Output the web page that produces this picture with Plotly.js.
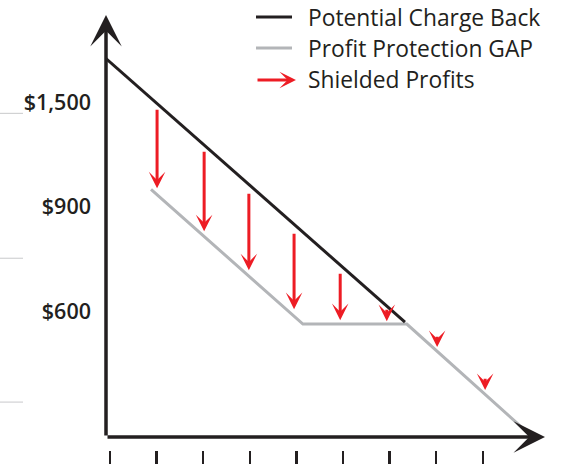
<!DOCTYPE html>
<html>
<head>
<meta charset="utf-8">
<script src="https://cdn.plot.ly/plotly-3.0.1.min.js"></script>
<style>html,body{margin:0;padding:0;background:#fff;}#chart{width:575px;height:467px;}</style>
</head>
<body>
<div id="chart"></div>
<script>
// ---- data (in chart units) ----
var xTickVals = [0, 1, 2, 3, 4, 5, 6, 7, 8];
var yTickVals = [1, 2, 3];
var yTickText = ['$600', '$900', '$1,500'];

var chargeBackX = [-0.086, 6.33];
var chargeBackY = [3.42, 0.895];

var gapX = [0.88, 4.14, 6.37, 8.95];
var gapY = [2.167, 0.876, 0.876, -0.158];

var shieldX   = [1.01, 2.02, 2.98, 3.95, 4.94, 5.94, 7.02, 8.05];
var shieldTop = [2.943, 2.541, 2.139, 1.756, 1.373, 1.029, 0.770, 0.368];
var shieldTip = [2.177, 1.766, 1.392, 1.019, 0.914, 0.904, 0.656, 0.244];

var legendNames = ['Potential Charge Back', 'Profit Protection GAP', 'Shielded Profits'];

var guideY = [2.895, 1.507, 0.129];

// ---- styling ----
var BLACK = '#231f20', GRAY = '#b3b5b8', RED = '#ed1c24';
var xMin = -0.086, xMax = 9.335, yMin = -0.330, yMax = 3.837, xAxisY = -0.206;

var traces = [
  {x: gapX, y: gapY, mode: 'lines', line: {color: GRAY, width: 3}, hoverinfo: 'skip', showlegend: false, cliponaxis: false},
  {x: chargeBackX, y: chargeBackY, mode: 'lines', line: {color: BLACK, width: 3}, hoverinfo: 'skip', showlegend: false, cliponaxis: false}
];

var annotations = [];
// axis arrows
annotations.push({x: xMin, y: yMax, ax: xMin, ay: xAxisY, xref: 'x', yref: 'y', axref: 'x', ayref: 'y',
  text: '', showarrow: true, arrowhead: 3, arrowwidth: 3.5, arrowsize: 1.5, arrowcolor: BLACK, standoff: 0});
annotations.push({x: xMax, y: xAxisY, ax: xMin, ay: xAxisY, xref: 'x', yref: 'y', axref: 'x', ayref: 'y',
  text: '', showarrow: true, arrowhead: 3, arrowwidth: 3.5, arrowsize: 1.5, arrowcolor: BLACK, standoff: 0});
// shielded profit arrows
for (var i = 0; i < shieldX.length; i++) {
  annotations.push({x: shieldX[i], y: shieldTip[i], ax: shieldX[i], ay: shieldTop[i],
    xref: 'x', yref: 'y', axref: 'x', ayref: 'y', text: '', showarrow: true,
    arrowhead: 3, arrowwidth: 3, arrowsize: 0.92, arrowcolor: RED, standoff: 0});
}
// legend (manual)
var legY = [0.9954, 0.9241, 0.8506];
annotations.push({x: 0.4328, y: legY[2], ax: 0.3417, ay: legY[2], xref: 'paper', yref: 'paper', axref: 'paper', ayref: 'paper',
  text: '', showarrow: true, arrowhead: 3, arrowwidth: 3, arrowsize: 0.92, arrowcolor: RED, standoff: 0});
for (var j = 0; j < legendNames.length; j++) {
  annotations.push({x: 0.4555, y: legY[j], xref: 'paper', yref: 'paper', xanchor: 'left', yanchor: 'middle',
    text: legendNames[j], showarrow: false, font: {family: 'Open Sans, sans-serif', size: 22.8, color: BLACK}});
}

var shapes = [
  {type: 'line', xref: 'paper', yref: 'paper', x0: 0.3417, x1: 0.4237, y0: legY[0], y1: legY[0], line: {color: BLACK, width: 3}},
  {type: 'line', xref: 'paper', yref: 'paper', x0: 0.3417, x1: 0.4237, y0: legY[1], y1: legY[1], line: {color: GRAY, width: 3}}
];
guideY.forEach(function (g) {
  shapes.push({type: 'line', xref: 'paper', yref: 'y', x0: -0.2415, x1: -0.189, y0: g, y1: g, line: {color: '#c8c9cb', width: 1}});
});

var layout = {
  width: 575, height: 467,
  margin: {l: 106, r: 30, t: 15, b: 17},
  paper_bgcolor: '#ffffff', plot_bgcolor: '#ffffff',
  showlegend: false,
  xaxis: {range: [xMin, xMax], tickmode: 'array', tickvals: xTickVals, showticklabels: false,
    ticks: 'outside', ticklen: 13, tickwidth: 2.5, tickcolor: BLACK,
    showgrid: false, zeroline: false, showline: false, fixedrange: true},
  yaxis: {range: [yMin, yMax], tickmode: 'array', tickvals: yTickVals, ticktext: yTickText,
    ticks: '', ticklabelstandoff: 14, showgrid: false, zeroline: false, showline: false, fixedrange: true,
    tickfont: {family: 'Open Sans, sans-serif', size: 21.5, color: BLACK, weight: 600}},
  annotations: annotations,
  shapes: shapes
};

Plotly.newPlot('chart', traces, layout, {staticPlot: true, displayModeBar: false});
</script>
</body>
</html>
